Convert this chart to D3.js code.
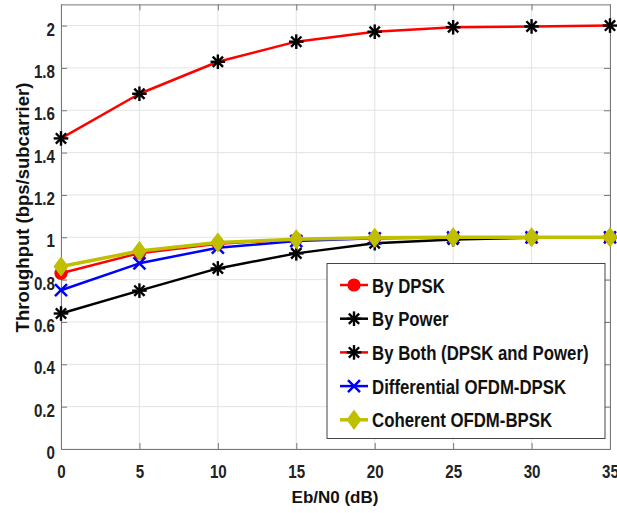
<!DOCTYPE html>
<html lang="en">
<head>
    <meta charset="UTF-8">
    <title>Throughput vs Eb/N0</title>
    <style>
        html, body {
            margin: 0;
            padding: 0;
            background: #fff;
            overflow: hidden;
        }
        svg {
            display: block;
            font-family: "Liberation Sans", Arial, sans-serif;
            font-weight: bold;
        }
        .grid line {
            stroke: #e3e3e3;
            stroke-width: 1px;
        }
        .axis path, .axis line {
            stroke: #777;
            stroke-width: 1px;
        }
        .axis text {
            font-size: 18.5px;
            fill: #222;
        }
    </style>
    <script src="https://d3js.org/d3.v7.min.js"></script>
</head>
<body>
    <svg width="617" height="513"></svg>
    <script>
        // data
        var ebn0 = [0, 5, 10, 15, 20, 25, 30, 35];
        var byDpsk = [0.83, 0.925, 0.97, 0.99, 0.997, 1.0, 1.0, 1.0];
        var byPower = [0.64, 0.748, 0.853, 0.924, 0.972, 0.99, 0.998, 1.0];
        var byBoth = [1.467, 1.678, 1.829, 1.924, 1.971, 1.992, 1.996, 2.0];
        var diffDpsk = [0.75, 0.877, 0.951, 0.982, 0.995, 0.999, 1.0, 1.0];
        var cohBpsk = [0.862, 0.935, 0.975, 0.991, 0.998, 1.0, 1.0, 1.0];
        var xTicks = [0, 5, 10, 15, 20, 25, 30, 35];
        var yTicks = [0, 0.2, 0.4, 0.6, 0.8, 1, 1.2, 1.4, 1.6, 1.8, 2];

        var series = [
            {name: "By DPSK", values: byDpsk, line: "#ff0000", marker: "circle", mcolor: "#ff0000", width: 2.5},
            {name: "By Power", values: byPower, line: "#000000", marker: "star", mcolor: "#000000", width: 2.5},
            {name: "By Both (DPSK and Power)", values: byBoth, line: "#ff0000", marker: "star", mcolor: "#000000", width: 2.5},
            {name: "Differential OFDM-DPSK", values: diffDpsk, line: "#0000ff", marker: "cross", mcolor: "#0000ff", width: 2.5},
            {name: "Coherent OFDM-BPSK", values: cohBpsk, line: "#bfbf00", marker: "diamond", mcolor: "#bfbf00", width: 3.5}
        ];

        var svg = d3.select("svg");
        var plotLeft = 61, plotRight = 610, plotTop = 4.4, plotBottom = 449;
        var squeeze = 0.82; // the figure's text is horizontally narrow

        var x = d3.scaleLinear().domain([0, 35]).range([plotLeft, plotRight]);
        var y = d3.scaleLinear().domain([0, 2.1]).range([plotBottom, plotTop]);

        // grid
        var grid = svg.append("g").attr("class", "grid");
        grid.selectAll(".gx").data(xTicks).enter().append("line")
            .attr("x1", d => x(d)).attr("x2", d => x(d))
            .attr("y1", plotTop).attr("y2", plotBottom);
        grid.selectAll(".gy").data(yTicks).enter().append("line")
            .attr("x1", plotLeft).attr("x2", plotRight)
            .attr("y1", d => y(d)).attr("y2", d => y(d));

        // axes, ticks pointing inward like matlab
        var xAxis = svg.append("g").attr("class", "axis")
            .attr("transform", "translate(0," + plotBottom + ")")
            .call(d3.axisBottom(x).tickValues(xTicks).tickSize(-6).tickSizeOuter(0).tickPadding(16));
        var yAxis = svg.append("g").attr("class", "axis")
            .attr("transform", "translate(" + plotLeft + ",0)")
            .call(d3.axisLeft(y).tickValues(yTicks).tickFormat(d3.format("")).tickSize(-6).tickSizeOuter(0).tickPadding(6));
        svg.append("g").attr("class", "axis")
            .attr("transform", "translate(0," + plotTop + ")")
            .call(d3.axisTop(x).tickValues(xTicks).tickSize(-6).tickSizeOuter(0).tickFormat(""));
        svg.append("g").attr("class", "axis")
            .attr("transform", "translate(" + plotRight + ",0)")
            .call(d3.axisRight(y).tickValues(yTicks).tickSize(-6).tickSizeOuter(0).tickFormat(""));

        xAxis.selectAll("text")
            .attr("transform", "scale(" + squeeze + ",1)");
        yAxis.selectAll("text")
            .attr("x", -6 / squeeze).attr("dy", "0.52em")
            .attr("transform", "scale(" + squeeze + ",1)");

        // axis titles
        svg.append("text")
            .attr("x", 335).attr("y", 503)
            .attr("text-anchor", "middle")
            .style("font-size", "17px").attr("fill", "#111")
            .text("Eb/N0 (dB)");
        svg.append("text")
            .attr("transform", "translate(29,207.5) rotate(-90)")
            .attr("text-anchor", "middle")
            .style("font-size", "18.5px").attr("fill", "#111")
            .text("Throughput (bps/subcarrier)");

        // marker drawing
        function drawMarker(g, type, color) {
            if (type === "circle") {
                g.append("circle").attr("r", 6.6).attr("fill", color);
            } else if (type === "star") {
                var r = 7.3;
                [0, 45, 90, 135].forEach(function(a) {
                    var t = a * Math.PI / 180;
                    g.append("line")
                        .attr("x1", -r * Math.cos(t)).attr("y1", -r * Math.sin(t))
                        .attr("x2", r * Math.cos(t)).attr("y2", r * Math.sin(t))
                        .attr("stroke", color).attr("stroke-width", 2.4);
                });
            } else if (type === "cross") {
                var c = 6;
                g.append("path")
                    .attr("d", "M" + (-c) + "," + (-c) + "L" + c + "," + c + "M" + (-c) + "," + c + "L" + c + "," + (-c))
                    .attr("stroke", color).attr("stroke-width", 2.5).attr("fill", "none");
            } else if (type === "diamond") {
                g.append("path")
                    .attr("d", "M0,-9.5L7,0L0,9.5L-7,0Z")
                    .attr("fill", color).attr("stroke", color).attr("stroke-width", 1);
            }
        }

        var line = d3.line()
            .x((d, i) => x(ebn0[i]))
            .y(d => y(d));

        series.forEach(function(s) {
            var g = svg.append("g");
            g.append("path")
                .attr("d", line(s.values))
                .attr("fill", "none")
                .attr("stroke", s.line)
                .attr("stroke-width", s.width)
                .attr("stroke-linejoin", "round");
            s.values.forEach(function(v, i) {
                var m = g.append("g").attr("transform", "translate(" + x(ebn0[i]) + "," + y(v) + ")");
                drawMarker(m, s.marker, s.mcolor);
            });
        });

        // legend
        var legend = svg.append("g");
        legend.append("rect")
            .attr("x", 327).attr("y", 263.5)
            .attr("width", 278).attr("height", 175)
            .attr("fill", "#fff").attr("stroke", "#444").attr("stroke-width", 1);
        series.forEach(function(s, i) {
            var cy = 285 + i * 33.7;
            var item = legend.append("g");
            item.append("line")
                .attr("x1", 340).attr("x2", 368)
                .attr("y1", cy).attr("y2", cy)
                .attr("stroke", s.line).attr("stroke-width", s.width);
            drawMarker(item.append("g").attr("transform", "translate(354," + cy + ")"), s.marker, s.mcolor);
            item.append("text")
                .attr("transform", "translate(372," + (cy + 7.5) + ") scale(" + squeeze + ",1)")
                .style("font-size", "20.5px").attr("fill", "#111")
                .text(s.name);
        });
    </script>
</body>
</html>
